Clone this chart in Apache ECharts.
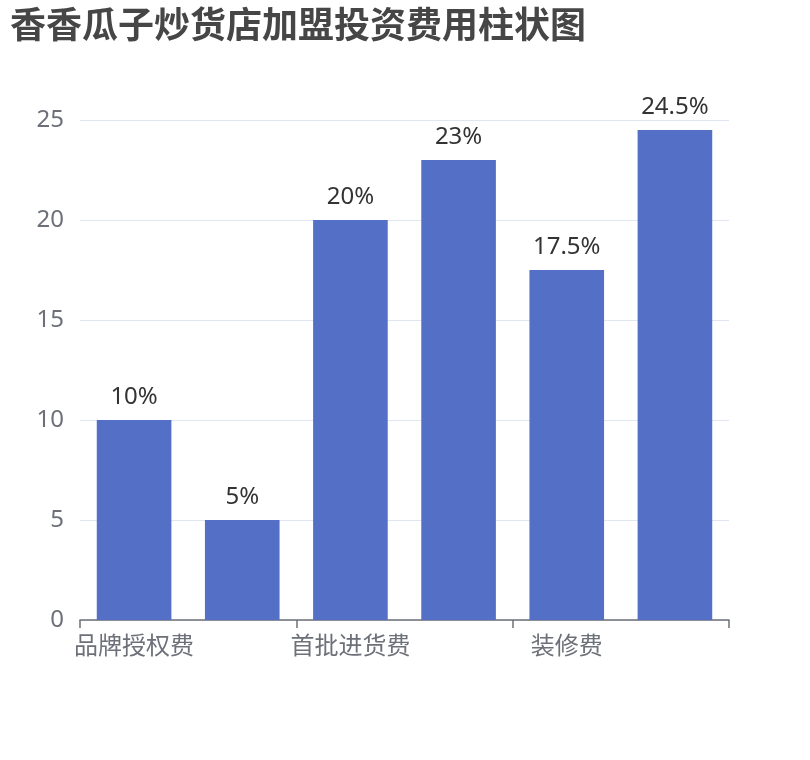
<!DOCTYPE html>
<html>
<head>
<meta charset="utf-8">
<script src="https://cdn.jsdelivr.net/npm/echarts@6/dist/echarts.min.js"></script>
<style>html,body{margin:0;padding:0;background:#fff}#c{width:810px;height:760px}</style>
</head>
<body>
<div id="c"></div>
<script>
const titleText = '香香瓜子炒货店加盟投资费用柱状图';
const categories = ['品牌授权费', '加盟保证金', '首批进货费', '设备购置费', '装修费', '店面租金'];
const values = [10, 5, 20, 23, 17.5, 24.5];

const FONT = "'Noto Sans', 'Noto Sans CJK SC', sans-serif";
const chart = echarts.init(document.getElementById('c'));
chart.setOption({
  animation: false,
  title: {
    text: titleText,
    left: 5,
    top: 1,
    textStyle: { fontSize: 36, fontWeight: 'bold', color: '#464646', fontFamily: 'Noto Sans CJK SC' }
  },
  grid: { left: 80, right: 81, top: 120, bottom: 140, containLabel: false },
  xAxis: {
    type: 'category',
    data: categories,
    axisLine: { lineStyle: { color: '#6e7079', width: 1.5 } },
    axisLabel: { fontSize: 24, color: '#6e7079', interval: 1, margin: 15, fontFamily: FONT },
    axisTick: { show: true, interval: 1, length: 8, lineStyle: { color: '#6e7079', width: 1.5 } }
  },
  yAxis: {
    type: 'value',
    min: 0, max: 25, interval: 5,
    axisLabel: { fontSize: 24, color: '#6e7079', margin: 16, fontFamily: FONT },
    splitLine: { lineStyle: { color: '#e0e6f1' } }
  },
  series: [{
    type: 'bar',
    data: values,
    barWidth: '69%',
    itemStyle: { color: '#5470c6' },
    label: {
      show: true, position: 'top', fontSize: 24, color: '#333', distance: 11,
      fontFamily: FONT,
      formatter: p => p.value + '%'
    }
  }]
});
</script>
</body>
</html>
